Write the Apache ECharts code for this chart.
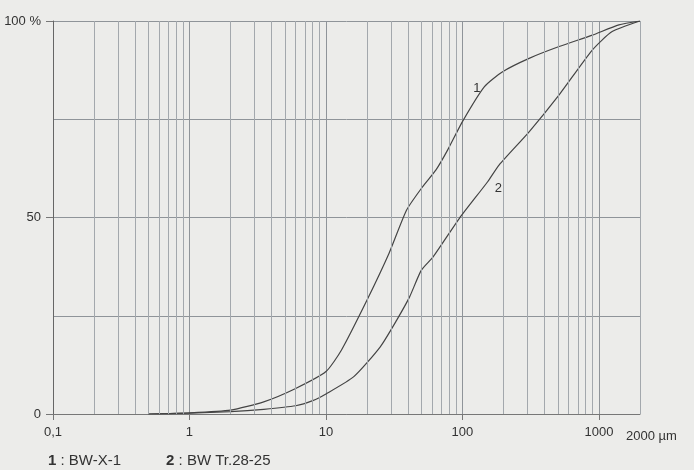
<!DOCTYPE html>
<html>
<head>
<meta charset="utf-8">
<script src="https://cdn.jsdelivr.net/npm/echarts@6/dist/echarts.min.js"></script>
<style>
  html, body { margin: 0; padding: 0; background: #ececea; }
  #chart { width: 694px; height: 470px; }
</style>
</head>
<body>
<div id="chart"></div>
<script>
// grain size (µm) and cumulative passing (%)
var sizes1 = [0.5, 1, 2, 3.5, 6, 10, 13, 20, 29, 39, 51, 64, 78, 100, 145, 197, 308, 511, 894, 1400, 2000];
var pass1 = [0, 0.3, 1, 3.1, 6.5, 10.8, 16.3, 29, 40.9, 51.9, 57.8, 62.1, 67.2, 74.4, 83.3, 87.1, 90.5, 93.5, 96.4, 99, 100];
var sizes2 = [0.5, 1, 2, 3.5, 6, 8, 10, 16, 25, 33, 41, 50, 61, 95, 153, 186, 308, 511, 894, 1250, 2000];
var pass2 = [0, 0.2, 0.6, 1.2, 2.1, 3.4, 5.1, 9.5, 17.1, 23.9, 29.8, 36.6, 40, 49.8, 59.1, 63.4, 71.8, 81.2, 92.6, 97.3, 100];
var seriesNames = ["BW-X-1", "BW Tr.28-25"];
var curveTags = ["1", "2"];
// vertical grid lines between the decades
var minorLines = [0.2, 0.3, 0.4, 0.5, 0.6, 0.7, 0.8, 0.9,
  2, 3, 4, 5, 6, 7, 8, 9,
  20, 30, 40, 50, 60, 70, 80, 90,
  200, 300, 400, 500, 600, 700, 800, 900, 2000];

var chart = echarts.init(document.getElementById("chart"));

function buildData(xs, ys, tagAt, tag, pos, off) {
  var out = [];
  for (var i = 0; i < xs.length; i++) {
    if (xs[i] === tagAt) {
      out.push({
        value: [xs[i], ys[i]],
        label: {
          show: true,
          formatter: tag,
          position: pos,
          distance: 7,
          offset: off,
          color: "#333",
          fontSize: 13
        }
      });
    } else {
      out.push([xs[i], ys[i]]);
    }
  }
  return out;
}

var lineColor = "#444";

var option = {
  backgroundColor: "#ececea",
  animation: false,
  textStyle: { fontFamily: "Liberation Sans, Arial, sans-serif" },
  grid: { left: 53, right: 54, top: 21, bottom: 56 },
  legend: {
    left: 38,
    bottom: -3,
    icon: "none",
    itemWidth: 0,
    itemGap: 40,
    data: seriesNames,
    formatter: function (name) {
      var i = seriesNames.indexOf(name);
      return "{b|" + curveTags[i] + "} : " + name;
    },
    textStyle: {
      color: "#333",
      fontSize: 15,
      rich: { b: { fontWeight: "bold", fontSize: 15, color: "#333" } }
    }
  },
  xAxis: {
    type: "log",
    logBase: 10,
    min: 0.1,
    max: 2000,
    name: "2000 µm",
    nameLocation: "end",
    nameGap: -14,
    nameTextStyle: {
      color: "#333",
      fontSize: 13,
      align: "left",
      verticalAlign: "top",
      padding: [16, 0, 0, 0]
    },
    axisLine: { lineStyle: { color: "#777" } },
    axisTick: { show: true, length: 6, lineStyle: { color: "#777" } },
    axisLabel: {
      color: "#333",
      fontSize: 13,
      margin: 12,
      showMaxLabel: false,
      formatter: function (v) {
        return v === 0.1 ? "0,1" : String(v);
      }
    },
    splitLine: { show: true, lineStyle: { color: "#8f9499", width: 1 } }
  },
  yAxis: {
    type: "value",
    min: 0,
    max: 100,
    interval: 50,
    axisLine: { show: true, lineStyle: { color: "#666" } },
    axisTick: { show: true, length: 7, lineStyle: { color: "#777" } },
    axisLabel: {
      color: "#333",
      fontSize: 13,
      margin: 12,
      formatter: function (v) {
        return v === 100 ? "100 %" : String(v);
      }
    },
    splitLine: { show: true, lineStyle: { color: "#8f9499", width: 1 } },
    minorTick: { show: false, splitNumber: 2 },
    minorSplitLine: { show: true, lineStyle: { color: "#8f9499", width: 1 } }
  },
  series: [
    {
      name: seriesNames[0],
      type: "line",
      smooth: 0.2,
      symbol: "circle",
      symbolSize: 0,
      showSymbol: true,
      color: lineColor,
      lineStyle: { color: lineColor, width: 1.2 },
      data: buildData(sizes1, pass1, 145, curveTags[0], "left", [3, 2]),
      markLine: {
        silent: true,
        symbol: "none",
        label: { show: false },
        lineStyle: { color: "#a3a8ad", width: 1, type: "solid" },
        data: minorLines.map(function (v) { return { xAxis: v }; })
      },
      z: 3
    },
    {
      name: seriesNames[1],
      type: "line",
      smooth: 0.2,
      symbol: "circle",
      symbolSize: 0,
      showSymbol: true,
      color: lineColor,
      lineStyle: { color: lineColor, width: 1.2 },
      data: buildData(sizes2, pass2, 153, curveTags[1], "right", [0, 7]),
      z: 3
    }
  ]
};

chart.setOption(option);
</script>
</body>
</html>
